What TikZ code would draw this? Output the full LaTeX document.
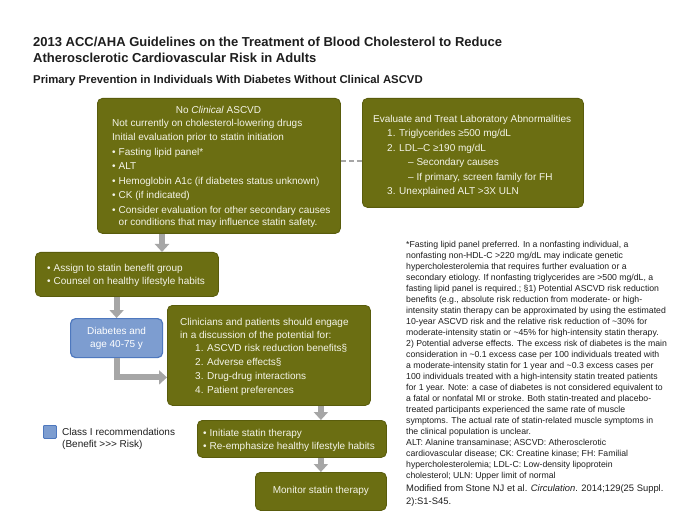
\documentclass[tikz,border=0pt]{standalone}
\usepackage{fontspec}
\setmainfont{Liberation Sans}
\usetikzlibrary{arrows.meta,calc}
\definecolor{gfill}{HTML}{6B6E12}
\definecolor{gdraw}{HTML}{595C0C}
\definecolor{cream}{HTML}{F4F4E8}
\definecolor{bfill}{HTML}{7D9DD0}
\definecolor{bdraw}{HTML}{4E78BE}
\definecolor{arrgray}{HTML}{A6A6A6}
\definecolor{ink}{HTML}{1E1E1E}
\begin{document}
\begin{tikzpicture}[x=1pt,y=-1pt,
  gbox/.style={draw=gdraw, fill=gfill, line width=0.8pt, rounded corners=5pt, inner sep=0pt, anchor=north west, text=cream, font=\fontsize{10}{13}\selectfont, align=center},
  bbox/.style={draw=bdraw, fill=bfill, line width=1.2pt, rounded corners=5pt, inner sep=0pt, anchor=north west, text=white, font=\fontsize{10}{13}\selectfont, align=center},
  btxt/.style={inner sep=0pt, anchor=north west, align=left, text=cream, font=\fontsize{10}{14.5}\selectfont},
  ftxt/.style={inner sep=0pt, anchor=north west, align=left, text=ink, font=\fontsize{8.7}{11}\selectfont},
  conn/.style={draw=arrgray, line width=6pt, -{Triangle[width=14pt,length=8pt]}},
  dconn/.style={draw=arrgray, line width=2.5pt, dash pattern=on 5pt off 3pt}
]
\useasboundingbox (0,0) rectangle (700,526);
\fill[white] (0,0) rectangle (700,526);

% titles
\node[inner sep=0pt, anchor=north west, align=left, text=ink, font=\bfseries\fontsize{13}{15.6}\selectfont] (title) at (33,37)
  {2013 ACC/AHA Guidelines on the Treatment of Blood Cholesterol to Reduce\\Atherosclerotic Cardiovascular Risk in Adults};
\node[inner sep=0pt, anchor=base west, text=ink, font=\bfseries\fontsize{11.35}{13}\selectfont] (subtitle) at (33,84)
  {Primary Prevention in Individuals With Diabetes Without Clinical ASCVD};

% boxes
\node[gbox, minimum width=243pt, minimum height=135pt] (b1) at (97,98) {};
\node[gbox, minimum width=221pt, minimum height=109pt] (ev) at (362,98) {};
\node[gbox, minimum width=183pt, minimum height=44pt] (as) at (35,252) {};
\node[bbox, minimum width=92pt, minimum height=39pt] (db) at (70,318) {Diabetes and\\age 40-75 y};
\node[gbox, minimum width=203pt, minimum height=100pt] (cl) at (167,305) {};
\node[gbox, minimum width=189pt, minimum height=37pt] (in) at (197,420) {};
\node[gbox, minimum width=131pt, minimum height=38pt] (mo) at (255,472) {Monitor statin therapy};

% box texts
\node[inner sep=0pt, anchor=base, text=cream, font=\fontsize{10}{13}\selectfont] (b1h) at (218.5,113.5) {No \textit{Clinical} ASCVD};
\node[btxt] (b1t) at (112,119) {Not currently on cholesterol-lowering drugs\\
Initial evaluation prior to statin initiation\\
\makebox[6.5pt][l]{•}Fasting lipid panel*\\
\makebox[6.5pt][l]{•}ALT\\
\makebox[6.5pt][l]{•}Hemoglobin A1c (if diabetes status unknown)\\
\makebox[6.5pt][l]{•}CK (if indicated)\\
\makebox[6.5pt][l]{•}Consider evaluation for other secondary causes\\[-2.5pt]
\hspace*{6.5pt}or conditions that may influence statin safety.};

\node[btxt] (evt) at (373,115) {Evaluate and Treat Laboratory Abnormalities\\
\hspace*{14pt}1. Triglycerides ≥500 mg/dL\\
\hspace*{14pt}2. LDL–C ≥190 mg/dL\\
\hspace*{35pt}– Secondary causes\\
\hspace*{35pt}– If primary, screen family for FH\\
\hspace*{14pt}3. Unexplained ALT >3X ULN};

\node[btxt, font=\fontsize{10}{13}\selectfont] (ast) at (47,264) {\makebox[6.5pt][l]{•}Assign to statin benefit group\\
\makebox[6.5pt][l]{•}Counsel on healthy lifestyle habits};

\node[btxt, font=\fontsize{10}{14}\selectfont] (clt) at (180,318) {Clinicians and patients should engage\\[-1pt]
in a discussion of the potential for:\\[-1pt]
\hspace*{15pt}1. ASCVD risk reduction benefits§\\
\hspace*{15pt}2. Adverse effects§\\
\hspace*{15pt}3. Drug-drug interactions\\
\hspace*{15pt}4. Patient preferences};

\node[btxt, font=\fontsize{10}{13}\selectfont] (int) at (203,429) {\makebox[6.5pt][l]{•}Initiate statin therapy\\
\makebox[6.5pt][l]{•}Re-emphasize healthy lifestyle habits};

% connectors
\coordinate (p1) at ([xshift=65pt]b1.south west);
\draw[conn] (p1) -- (p1 |- as.north);
\draw[conn] (as.south -| db.north) -- (db.north);
\draw[conn] (db.south) |- ([yshift=-22pt]cl.west);
\draw[conn] (cl.south -| mo.north) -- (in.north -| mo.north);
\draw[conn] (in.south -| mo.north) -- (mo.north);
\coordinate (p2) at ([yshift=5pt]b1.east);
\draw[dconn] (p2) -- (p2 -| ev.west);

% legend
\node[draw=bdraw, fill=bfill, line width=0.8pt, rounded corners=1pt, inner sep=0pt, minimum size=13pt, anchor=north west] (lg) at (43,425) {};
\node[inner sep=0pt, anchor=north west, align=left, text=ink, font=\fontsize{10}{11.7}\selectfont] (lgt) at (62,428)
  {Class I recommendations\\(Benefit >{}>{}> Risk)};

% footnote
\node[ftxt] (fn) at (406,241) {*Fasting lipid panel preferred. In a nonfasting individual, a\\
nonfasting non-HDL-C >220 mg/dL may indicate genetic\\
hypercholesterolemia that requires further evaluation or a\\
secondary etiology. If nonfasting triglycerides are >500 mg/dL, a\\
fasting lipid panel is required.; §1) Potential ASCVD risk reduction\\
benefits (e.g., absolute risk reduction from moderate- or high-\\
intensity statin therapy can be approximated by using the estimated\\
10-year ASCVD risk and the relative risk reduction of \textasciitilde30\% for\\
moderate-intensity statin or \textasciitilde45\% for high-intensity statin therapy.\\
2) Potential adverse effects. The excess risk of diabetes is the main\\
consideration in \textasciitilde0.1 excess case per 100 individuals treated with\\
a moderate-intensity statin for 1 year and \textasciitilde0.3 excess cases per\\
100 individuals treated with a high-intensity statin treated patients\\
for 1 year. Note: a case of diabetes is not considered equivalent to\\
a fatal or nonfatal MI or stroke. Both statin-treated and placebo-\\
treated participants experienced the same rate of muscle\\
symptoms. The actual rate of statin-related muscle symptoms in\\
the clinical population is unclear.\\
ALT: Alanine transaminase; ASCVD: Atherosclerotic\\
cardiovascular disease; CK: Creatine kinase; FH: Familial\\
hypercholesterolemia; LDL-C: Low-density lipoprotein\\
cholesterol; ULN: Upper limit of normal};
\node[ftxt, font=\fontsize{9.4}{13}\selectfont] (src) at (406,484) {Modified from Stone NJ et al. \textit{Circulation}. 2014;129(25 Suppl.\\2):S1-S45.};
\end{tikzpicture}
\end{document}
